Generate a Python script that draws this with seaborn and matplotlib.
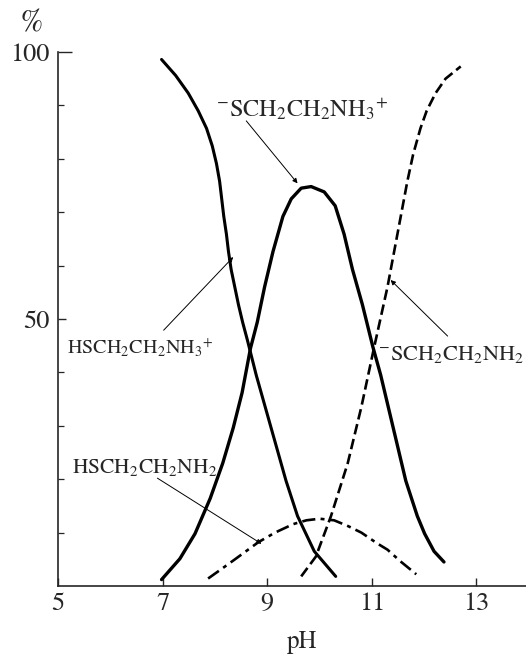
#!/usr/bin/env python3
# -*- coding: utf-8 -*-
"""
Species distribution of cysteamine (2-mercaptoethylamine) vs pH
"""

#%% Import modules

import pandas as pd
import seaborn as sns
import matplotlib.pyplot as plt


#%% Data (pH, %)

ph_thiol_ammonium = [6.98, 7.25, 7.49, 7.68, 7.84, 7.95, 8.03, 8.09, 8.13, 8.17, 8.22, 8.26, 8.31, 8.38, 8.45,
                     8.53, 8.62, 8.79, 8.98, 9.17, 9.36, 9.58, 9.90, 10.31]
pct_thiol_ammonium = [98.6, 95.6, 92.3, 89.0, 85.7, 82.4, 79.1, 75.8, 72.5, 69.2, 65.9, 62.6, 59.3, 56.0, 52.7,
                      49.4, 46.1, 39.5, 32.9, 26.3, 19.7, 13.1, 6.5, 1.8]

ph_thiolate_ammonium = [6.98, 7.33, 7.62, 7.91, 8.15, 8.35, 8.52, 8.68, 8.81, 8.95, 9.11, 9.30, 9.46, 9.65, 9.84,
                        10.09, 10.30, 10.47, 10.63, 10.82, 11.02, 11.17, 11.33, 11.49, 11.65, 11.87, 12.01, 12.19, 12.38]
pct_thiolate_ammonium = [1.2, 5.1, 9.8, 16.4, 23.0, 29.6, 36.2, 44.5, 49.4, 56.0, 62.6, 69.2, 72.5, 74.5, 74.8,
                         73.8, 71.2, 65.9, 59.3, 52.7, 44.8, 39.5, 32.9, 26.3, 19.7, 13.1, 9.8, 6.5, 4.5]

ph_thiolate_amine = [9.65, 9.93, 10.22, 10.54, 10.80, 11.04, 11.30, 11.49, 11.68, 11.79, 11.93, 12.05, 12.22, 12.41, 12.70]
pct_thiolate_amine = [1.8, 5.5, 13.1, 23.0, 33.5, 44.5, 56.0, 65.9, 75.8, 80.8, 85.7, 89.0, 92.3, 95.0, 97.3]

ph_thiol_amine = [7.87, 8.10, 8.37, 8.83, 9.15, 9.50, 9.75, 10.00, 10.28, 10.55, 10.80, 11.10, 11.30, 11.55, 11.85]
pct_thiol_amine = [1.4, 3.0, 4.9, 8.2, 10.0, 11.6, 12.3, 12.6, 12.3, 11.2, 10.0, 8.0, 6.8, 4.6, 2.2]

x_ticks = [5, 7, 9, 11, 13]
y_ticks = [50, 100]
y_minor = [10, 20, 30, 40, 60, 70, 80, 90]


#%% Build long dataframe

species = ['thiol_ammonium', 'thiolate_ammonium', 'thiolate_amine', 'thiol_amine']
ph_list = [ph_thiol_ammonium, ph_thiolate_ammonium, ph_thiolate_amine, ph_thiol_amine]
pct_list = [pct_thiol_ammonium, pct_thiolate_ammonium, pct_thiolate_amine, pct_thiol_amine]
df = pd.concat([pd.DataFrame({'pH': p, 'pct': v, 'species': s})
                for s, p, v in zip(species, ph_list, pct_list)], ignore_index=True)


#%% Plot

sns.set_style('ticks')
plt.rcParams['font.family'] = ['STIXGeneral', 'DejaVu Serif']
plt.rcParams['mathtext.fontset'] = 'stix'

fig = plt.figure(figsize=(5.26, 6.55), dpi=100)
ax = fig.add_axes([58/526, 69/655, 468/526, 534/655])

sns.lineplot(data=df, x='pH', y='pct', hue='species', style='species', size='species',
             palette={s: 'black' for s in species},
             dashes={'thiol_ammonium': '', 'thiolate_ammonium': '',
                     'thiolate_amine': (4, 1.8), 'thiol_amine': (5, 2, 1.5, 2)},
             sizes={'thiol_ammonium': 2.2, 'thiolate_ammonium': 2.4,
                    'thiolate_amine': 1.9, 'thiol_amine': 1.9},
             legend=False, ax=ax)

ax.set_xlim(5, 5 + 468/52.3)
ax.set_ylim(0, 100)
sns.despine(ax=ax)
for sp in ['left', 'bottom']:
    ax.spines[sp].set_linewidth(1.2)

ax.set_xticks(x_ticks)
ax.set_xticklabels([str(t) for t in x_ticks])
ax.set_yticks(y_ticks)
ax.set_yticklabels([str(t) for t in y_ticks])
ax.set_yticks(y_minor, minor=True)
ax.tick_params(axis='x', direction='in', length=6, width=1, pad=4, labelsize=19)
ax.tick_params(axis='y', which='major', direction='in', length=6, width=1, pad=6, labelsize=19)
ax.tick_params(axis='y', which='minor', direction='in', length=4.5, width=0.9)
ax.yaxis.get_major_ticks()[1].tick1line.set_markersize(10)
ax.set_xlabel('')
ax.set_ylabel('')

ax.text((302 - 58) / 468, (586 - 648) / 534, 'pH', transform=ax.transAxes,
        ha='center', va='baseline', fontsize=18)
fig.text(31/526, 1 - 24/655, '%', ha='center', va='center', fontsize=22, style='italic')

# Species labels with leader lines
arrow = dict(arrowstyle='-|>', lw=0.7, color='black', mutation_scale=7, shrinkA=0, shrinkB=0)
ax.text(8.03, 88.0, r'$^{-}$SCH$_2$CH$_2$NH$_3$$^{+}$', fontsize=17.5, ha='left', va='baseline')
ax.annotate('', xy=(9.58, 75.4), xytext=(8.60, 87.1), arrowprops=arrow)

ax.text(5.17, 43.3, r'HSCH$_2$CH$_2$NH$_3$$^{+}$', fontsize=14.5, ha='left', va='baseline')
ax.annotate('', xy=(8.35, 61.6), xytext=(7.02, 47.9), arrowprops=arrow)

ax.text(11.12, 42.3, r'$^{-}$SCH$_2$CH$_2$NH$_2$', fontsize=16, ha='left', va='baseline', clip_on=False)
ax.annotate('', xy=(11.36, 57.3), xytext=(12.45, 46.8), arrowprops=arrow)

ax.text(5.27, 21.2, r'HSCH$_2$CH$_2$NH$_2$', fontsize=15.5, ha='left', va='baseline')
ax.annotate('', xy=(8.89, 7.9), xytext=(6.90, 20.2), arrowprops=arrow)

fig.savefig('out.png', dpi=100)
